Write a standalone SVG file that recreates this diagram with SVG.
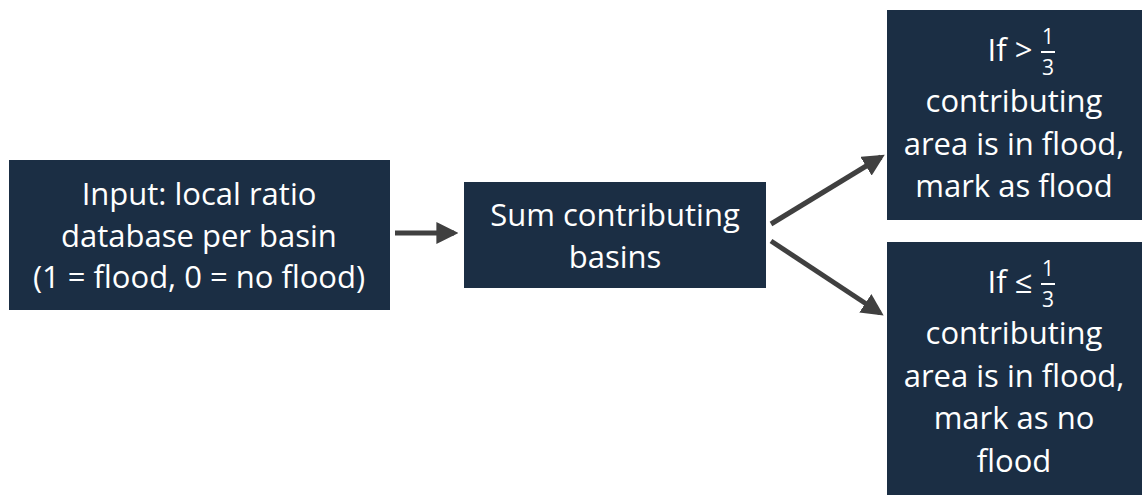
<svg xmlns="http://www.w3.org/2000/svg" width="1142" height="495" viewBox="0 0 1142 495">
<style>
.box{fill:#1b2e44}
.t{font-family:"Open Sans","Liberation Sans",Arial,sans-serif;font-size:31px;fill:#ffffff;text-anchor:middle}
.f{font-family:"Open Sans","Liberation Sans",Arial,sans-serif;font-size:21px;fill:#ffffff;text-anchor:middle}
.c{stroke:#404040;stroke-width:5;fill:none}
</style>
<defs>
<marker id="ah" viewBox="0 0 10 10" refX="8" refY="5" markerWidth="4.4" markerHeight="4.4" orient="auto" markerUnits="strokeWidth">
<path d="M0,0 L10,5 L0,10 z" fill="#404040"/>
</marker>
</defs>
<rect width="1142" height="495" fill="#ffffff"/>
<g id="connectors">
<line class="c" x1="395" y1="233" x2="454" y2="233" marker-end="url(#ah)"/>
<line class="c" x1="771" y1="224" x2="881" y2="157" marker-end="url(#ah)"/>
<line class="c" x1="771" y1="241" x2="880" y2="313" marker-end="url(#ah)"/>
</g>
<g id="input">
<rect class="box" x="9" y="160" width="381" height="150"/>
<text class="t" x="199" y="205">Input: local ratio</text>
<text class="t" x="199" y="247">database per basin</text>
<text class="t" x="199" y="288">(1 = flood, 0 = no flood)</text>
</g>
<g id="sum">
<rect class="box" x="464" y="182" width="302" height="106"/>
<text class="t" x="615" y="226">Sum contributing</text>
<text class="t" x="615" y="268">basins</text>
</g>
<g id="flood">
<rect class="box" x="887" y="10" width="255" height="210"/>
<text class="t" x="1010" y="61">If &gt;</text>
<text class="f" x="1048" y="44">1</text>
<line x1="1041" y1="52" x2="1055" y2="52" stroke="#ffffff" stroke-width="2"/>
<text class="f" x="1048" y="75">3</text>
<text class="t" x="1014" y="112">contributing</text>
<text class="t" x="1014" y="155">area is in flood,</text>
<text class="t" x="1014" y="197">mark as flood</text>
</g>
<g id="noflood">
<rect class="box" x="887" y="242" width="255" height="253"/>
<text class="t" x="1010" y="293">If ≤</text>
<text class="f" x="1048" y="276">1</text>
<line x1="1041" y1="284" x2="1055" y2="284" stroke="#ffffff" stroke-width="2"/>
<text class="f" x="1048" y="307">3</text>
<text class="t" x="1014" y="344">contributing</text>
<text class="t" x="1014" y="387">area is in flood,</text>
<text class="t" x="1014" y="429">mark as no</text>
<text class="t" x="1014" y="472">flood</text>
</g>
</svg>
